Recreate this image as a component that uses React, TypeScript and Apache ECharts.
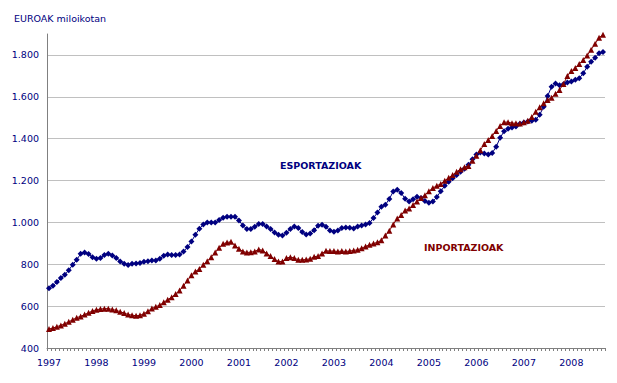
import React, { useEffect, useRef } from "react";
import * as echarts from "echarts";

const startYear = 1997;
const monthCount = 141; // Jan 1997 .. Sep 2008

const categories: string[] = Array.from({ length: monthCount }, (_, i) =>
  `${startYear + Math.floor(i / 12)}-${String((i % 12) + 1).padStart(2, "0")}`
);

const esportazioak: number[] = [
  686, 697, 715, 734, 750, 772, 798, 821, 850, 856, 849, 834,
  826, 830, 844, 850, 842, 830, 813, 802, 796, 802, 804, 806,
  812, 815, 818, 818, 826, 841, 847, 844, 844, 847, 861, 882,
  909, 941, 970, 990, 999, 999, 999, 1011, 1022, 1027, 1027, 1027,
  1009, 985, 969, 969, 979, 992, 992, 980, 968, 952, 941, 937,
  950, 969, 980, 973, 954, 942, 947, 963, 984, 989, 979, 961,
  955, 961, 973, 976, 974, 971, 980, 985, 990, 997, 1021, 1047,
  1075, 1084, 1112, 1148, 1156, 1140, 1113, 1100, 1111, 1122, 1117, 1102,
  1094, 1100, 1121, 1149, 1175, 1194, 1211, 1227, 1242, 1256, 1275, 1302,
  1324, 1334, 1329, 1324, 1332, 1361, 1404, 1435, 1447, 1453, 1458, 1471,
  1477, 1482, 1485, 1490, 1514, 1553, 1604, 1648, 1663, 1655, 1660, 1668,
  1673, 1681, 1689, 1712, 1744, 1768, 1787, 1808, 1814,
];

const inportazioak: number[] = [
  491, 495, 502, 508, 516, 525, 535, 545, 551, 560, 568, 577,
  583, 586, 588, 588, 584, 580, 573, 567, 560, 557, 554, 556,
  564, 575, 589, 597, 605, 618, 631, 643, 658, 675, 697, 723,
  748, 766, 777, 798, 815, 834, 856, 879, 898, 904, 907, 890,
  874, 861, 856, 858, 861, 871, 866, 852, 839, 825, 813, 813,
  830, 834, 830, 821, 821, 823, 826, 836, 839, 852, 864, 863,
  863, 861, 863, 861, 863, 866, 869, 877, 885, 893, 899, 905,
  915, 937, 960, 990, 1019, 1035, 1057, 1066, 1083, 1100, 1117, 1130,
  1149, 1164, 1175, 1184, 1199, 1213, 1226, 1242, 1254, 1264, 1270, 1295,
  1318, 1345, 1374, 1394, 1413, 1437, 1461, 1479, 1479, 1474, 1474, 1472,
  1479, 1486, 1504, 1529, 1550, 1569, 1585, 1596, 1614, 1633, 1661, 1699,
  1723, 1738, 1757, 1776, 1797, 1825, 1853, 1882, 1897,
];

const yMin = 400;
const yMax = 1900;
const yStep = 200;

const unitLabel = "EUROAK miloikotan";
const exportLabel = "ESPORTAZIOAK";
const importLabel = "INPORTAZIOAK";

const NAVY = "#000080";
const MAROON = "#800000";
const FONT = "DejaVu Sans";

function fmtThousands(v: number): string {
  if (v >= 1000) {
    return `${Math.floor(v / 1000)}.${String(v % 1000).padStart(3, "0")}`;
  }
  return String(v);
}

export default function App() {
  const ref = useRef<HTMLDivElement>(null);

  useEffect(() => {
    if (!ref.current) return;
    const chart = echarts.init(ref.current, null, { renderer: "svg" });
    chart.setOption({
      animation: false,
      backgroundColor: "#ffffff",
      grid: { left: 47, right: 12, top: 34, bottom: 35, containLabel: false },
      xAxis: {
        type: "category",
        data: categories,
        boundaryGap: true,
        axisLine: { lineStyle: { color: "#808080", width: 1 } },
        axisTick: {
          show: true,
          interval: 0,
          length: 3,
          lineStyle: { color: "#808080", width: 1 },
        },
        axisLabel: {
          interval: (idx: number) => idx % 12 === 0,
          formatter: (v: string) => v.slice(0, 4),
          color: NAVY,
          fontFamily: FONT,
          fontSize: 9.5,
          margin: 9,
        },
        splitLine: { show: false },
      },
      yAxis: {
        type: "value",
        min: yMin,
        max: yMax,
        interval: yStep,
        axisLine: { show: true, lineStyle: { color: "#808080", width: 1 } },
        axisTick: { show: false },
        axisLabel: {
          color: NAVY,
          fontFamily: FONT,
          fontSize: 9.5,
          margin: 8,
          showMaxLabel: false,
          formatter: (v: number) => (v > 1800 ? "" : fmtThousands(v)),
        },
        splitLine: {
          show: true,
          showMaxLine: false,
          lineStyle: { color: "#c0c0c0", width: 1 },
        },
      },
      graphic: [
        {
          type: "text",
          left: 14,
          top: 13,
          style: {
            text: unitLabel,
            fill: NAVY,
            font: `9.5px "${FONT}"`,
          },
        },
        {
          type: "text",
          x: 280,
          y: 165,
          style: {
            text: exportLabel,
            fill: NAVY,
            font: `bold 9.5px "${FONT}"`,
            textVerticalAlign: "middle",
          },
        },
        {
          type: "text",
          x: 424,
          y: 247,
          style: {
            text: importLabel,
            fill: MAROON,
            font: `bold 9.5px "${FONT}"`,
            textVerticalAlign: "middle",
          },
        },
      ],
      series: [
        {
          name: exportLabel,
          type: "line",
          data: esportazioak,
          symbol: "diamond",
          symbolSize: 6,
          showAllSymbol: true,
          lineStyle: { color: NAVY, width: 1 },
          itemStyle: { color: NAVY, borderWidth: 0 },
        },
        {
          name: importLabel,
          type: "line",
          data: inportazioak,
          symbol: "triangle",
          symbolSize: 6,
          showAllSymbol: true,
          lineStyle: { color: MAROON, width: 1 },
          itemStyle: { color: MAROON, borderWidth: 0 },
        },
      ],
    });
    return () => chart.dispose();
  }, []);

  return (
    <div
      ref={ref}
      style={{
        position: "fixed",
        left: 0,
        top: 0,
        width: 617,
        height: 383,
        background: "#ffffff",
      }}
    />
  );
}
